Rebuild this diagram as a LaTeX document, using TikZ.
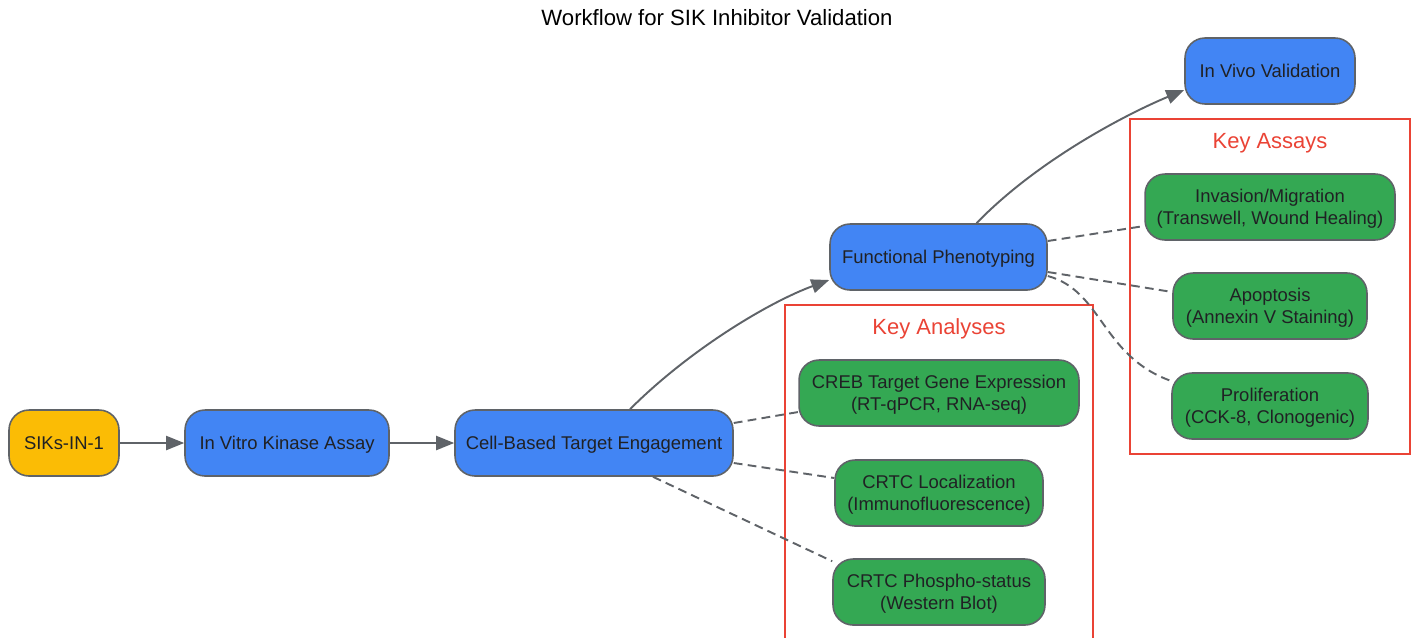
\documentclass[tikz,border=0pt]{standalone}
\usepackage{fontspec}
\setmainfont{Liberation Sans}
\usetikzlibrary{arrows.meta,calc,positioning,fit}
\definecolor{gblue}{HTML}{4285F4}
\definecolor{ggreen}{HTML}{34A853}
\definecolor{gyellow}{HTML}{FBBC05}
\definecolor{gred}{HTML}{EA4335}
\definecolor{edgegray}{HTML}{5F6368}
\definecolor{txtgray}{HTML}{202124}

\begin{document}
\begin{tikzpicture}[x=0.02cm,y=-0.02cm,
  box/.style={draw=edgegray,line width=0.9pt,rounded corners=0.4cm,minimum height=1.32cm,inner sep=2pt,text depth=0pt,align=center,text=txtgray,font=\fontsize{10.5}{12.6}\selectfont},
  drug/.style={box,fill=gyellow},
  stage/.style={box,fill=gblue},
  assay/.style={box,fill=ggreen},
  flow/.style={draw=edgegray,line width=1.1pt,-{Triangle[length=3.6mm,width=2.8mm]}},
  link/.style={draw=edgegray,line width=1.1pt,dash pattern=on 5pt off 3pt},
  group/.style={draw=gred,line width=0.9pt,inner sep=0pt},
  grouplabel/.style={text=gred,text depth=0pt,font=\fontsize{12.5}{14}\selectfont}]
  \useasboundingbox (0,0) rectangle (1415,637);

  \node[font=\fontsize{12.6}{15}\selectfont,text=black] (title) at (717,18) {Workflow for SIK Inhibitor Validation};

  % main chain
  \node[drug,minimum width=2.2cm] (siks) at (64,443) {SIKs-IN-1};
  \node[stage,minimum width=4.08cm] (vitro) at (287,443) {In Vitro Kinase Assay};
  \node[stage,minimum width=5.56cm] (cell) at (594,443) {Cell-Based Target Engagement};
  \node[stage,minimum width=4.34cm] (func) at (938.5,257) {Functional Phenotyping};
  \node[stage,minimum width=3.4cm] (vivo) at (1270,71) {In Vivo Validation};

  % key analyses
  \node[group,fit={(785,305) (1093,645)}] (analyses) {};
  \node[grouplabel] (analyseslbl) at (939,327) {Key Analyses};
  \node[assay,minimum width=5.6cm] (creb) at (939,393) {CREB Target Gene Expression\\(RT-qPCR, RNA-seq)};
  \node[assay,minimum width=4.16cm] (loc) at (939,493) {CRTC Localization\\(Immunofluorescence)};
  \node[assay,minimum width=4.24cm] (phos) at (939,592) {CRTC Phospho-status\\(Western Blot)};

  % key assays
  \node[group,fit={(1130,119) (1410,454)}] (assays) {};
  \node[grouplabel] (assayslbl) at (1270,141) {Key Assays};
  \node[assay,minimum width=5.0cm] (inv) at (1270,207) {Invasion/Migration\\(Transwell, Wound Healing)};
  \node[assay,minimum width=3.88cm] (apo) at (1270,306) {Apoptosis\\(Annexin V Staining)};
  \node[assay,minimum width=3.92cm] (prol) at (1270,406) {Proliferation\\(CCK-8, Clonogenic)};

  \draw[flow] (siks) -- (vitro);
  \draw[flow] (vitro) -- (cell);
  \draw[flow] ([xshift=0.72cm]cell.north) .. controls +(60,-60) and +(-60,22) .. ([yshift=-0.46cm]func.west);
  \draw[flow] ([xshift=0.76cm]func.north) .. controls +(60,-62) and +(-60,25) .. ([yshift=-0.38cm]vivo.west);

  \draw[link] ([yshift=0.4cm]cell.east) -- ([yshift=-0.38cm]creb.west);
  \draw[link] ([yshift=-0.4cm]cell.east) -- ([yshift=0.3cm]loc.west);
  \draw[link] ([xshift=1.18cm]cell.south) -- ([yshift=-0.06cm]phos.north west);

  \draw[link] ([yshift=0.32cm]func.east) -- ([yshift=-0.38cm]inv.west);
  \draw[link] ([yshift=-0.3cm]func.east) -- ([yshift=0.28cm]apo.west);
  \draw[link] ([yshift=-0.38cm]func.east) .. controls +(55,15) and +(-70,-25) .. ([yshift=0.5cm]prol.west);
\end{tikzpicture}
\end{document}
